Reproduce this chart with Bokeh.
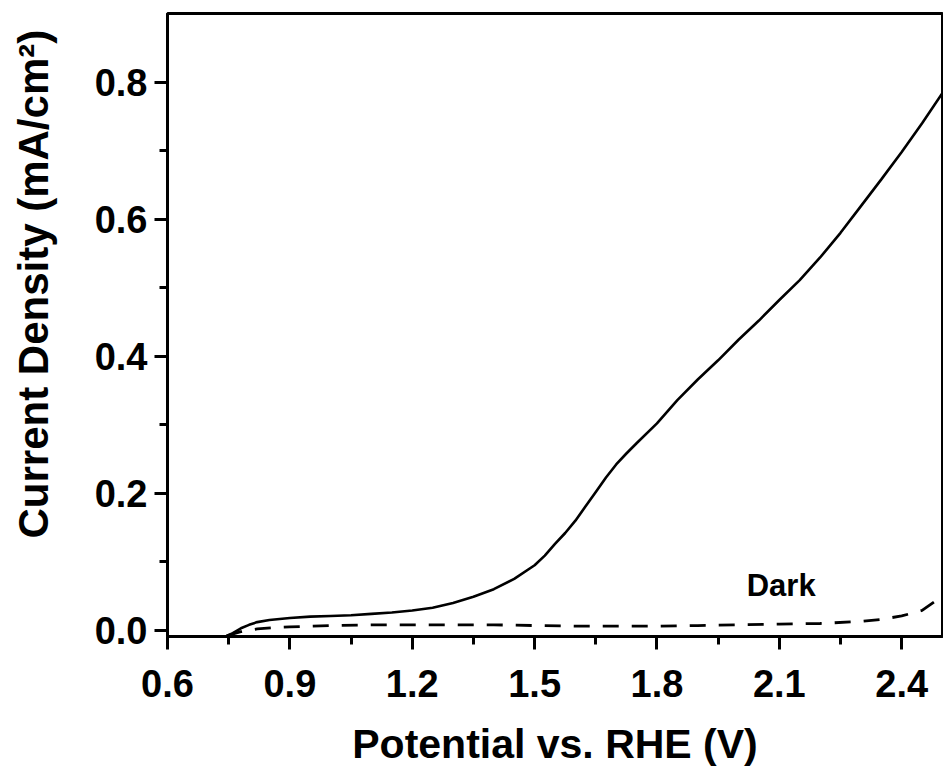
from bokeh.plotting import figure
from bokeh.models import FixedTicker, NumeralTickFormatter, Range1d
from bokeh.core.properties import value
from bokeh.embed import file_html
from bokeh.resources import INLINE

# Light (solid) curve
light_v = [0.745, 0.76, 0.78, 0.80, 0.82, 0.85, 0.90, 0.95, 1.00, 1.05, 1.10, 1.15, 1.20, 1.25,
           1.30, 1.35, 1.40, 1.45, 1.50, 1.525, 1.55, 1.575, 1.60, 1.625, 1.65, 1.675, 1.70,
           1.725, 1.75, 1.80, 1.85, 1.90, 1.95, 2.00, 2.05, 2.10, 2.15, 2.20, 2.25, 2.30, 2.35,
           2.40, 2.45, 2.50]
light_j = [-0.008, -0.004, 0.003, 0.008, 0.012, 0.015, 0.018, 0.020, 0.021, 0.022, 0.024, 0.026,
           0.029, 0.033, 0.040, 0.049, 0.060, 0.075, 0.095, 0.109, 0.126, 0.142, 0.160, 0.181,
           0.202, 0.223, 0.242, 0.258, 0.273, 0.302, 0.336, 0.366, 0.394, 0.424, 0.452, 0.482,
           0.511, 0.544, 0.580, 0.619, 0.658, 0.698, 0.740, 0.784]

# Dark (dashed) curve
dark_v = [0.745, 0.78, 0.82, 0.86, 0.90, 1.00, 1.10, 1.20, 1.30, 1.40, 1.50, 1.60, 1.70, 1.80,
          1.90, 2.00, 2.10, 2.20, 2.30, 2.35, 2.40, 2.45, 2.50]
dark_j = [-0.008, -0.002, 0.002, 0.004, 0.005, 0.007, 0.008, 0.008, 0.008, 0.008, 0.007, 0.006,
          0.006, 0.006, 0.007, 0.008, 0.009, 0.010, 0.013, 0.016, 0.021, 0.029, 0.050]

x_ticks = [0.6, 0.9, 1.2, 1.5, 1.8, 2.1, 2.4]
x_minor = [0.75, 1.05, 1.35, 1.65, 1.95, 2.25]
y_ticks = [0.0, 0.2, 0.4, 0.6, 0.8]
y_minor = [0.1, 0.3, 0.5, 0.7]

label_text = ["Dark"]
label_x = [2.02]
label_y = [0.066]

FONT = "Liberation Sans"
W, H = 943, 769

p = figure(width=W, height=H, output_backend="svg", toolbar_location=None,
           x_range=Range1d(0.6, 2.5), y_range=Range1d(-0.009, 0.9),
           min_border_left=167, min_border_right=1, min_border_top=13, min_border_bottom=132)
p.grid.visible = False
p.background_fill_color = "white"
p.border_fill_color = "white"
p.outline_line_color = "black"
p.outline_line_width = 3

p.line(light_v, light_j, line_color="black", line_width=2.6)
p.line(dark_v, dark_j, line_color="black", line_width=2.8, line_dash="16 13")

p.text(x=label_x, y=label_y, text=label_text, text_font=value(FONT), text_font_style="bold",
       text_font_size="31px", text_align="left", text_baseline="alphabetic", text_color="black")

p.xaxis.ticker = FixedTicker(ticks=x_ticks, minor_ticks=x_minor)
p.yaxis.ticker = FixedTicker(ticks=y_ticks, minor_ticks=y_minor)
p.xaxis.formatter = NumeralTickFormatter(format="0.0")
p.yaxis.formatter = NumeralTickFormatter(format="0.0")

for ax in (p.xaxis[0], p.yaxis[0]):
    ax.axis_line_width = 3
    ax.axis_line_color = "black"
    ax.major_tick_line_width = 3
    ax.minor_tick_line_width = 3
    ax.major_tick_in = 0
    ax.major_tick_out = 13
    ax.minor_tick_in = 0
    ax.minor_tick_out = 8
    ax.major_label_text_font = FONT
    ax.major_label_text_font_style = "bold"
    ax.major_label_text_font_size = "38px"
    ax.major_label_text_color = "black"
    ax.axis_label_text_font = FONT
    ax.axis_label_text_font_style = "bold"
    ax.axis_label_text_color = "black"

p.xaxis.axis_label = "Potential vs. RHE (V)"
p.xaxis.axis_label_text_font_size = "41px"
p.xaxis.major_label_standoff = 20
p.xaxis.axis_label_standoff = 21

# leading non-breaking spaces lift the centred label to where the reference has it
p.yaxis.axis_label = "\u00a0" * 7 + "Current Density (mA/cm²)"
p.yaxis.axis_label_text_font_size = "42px"
p.yaxis.major_label_standoff = 7
p.yaxis.axis_label_standoff = 35

open("out.html", "w").write(file_html(p, INLINE))
